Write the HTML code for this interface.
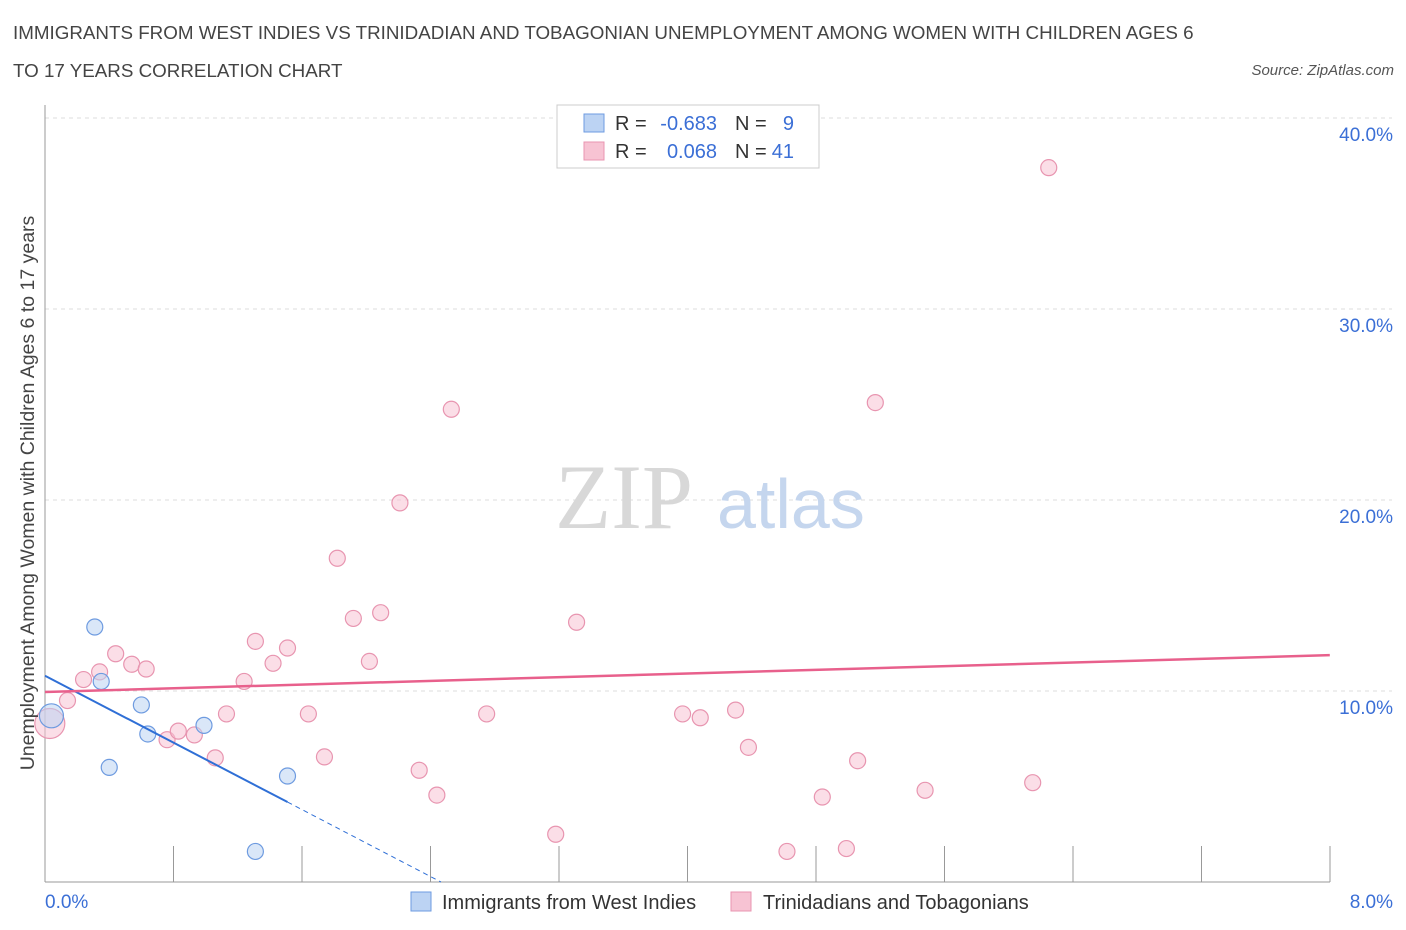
<!DOCTYPE html>
<html><head><meta charset="utf-8">
<style>
body{margin:0;background:#fff;font-family:"Liberation Sans",sans-serif;}
#wrap{position:relative;width:1406px;height:930px;overflow:hidden;}
.t{position:absolute;white-space:nowrap;}
</style></head>
<body>
<div id="wrap">
<div class="t" style="left:13px;top:14px;font-size:18.8px;color:#444;line-height:38px;">IMMIGRANTS FROM WEST INDIES VS TRINIDADIAN AND TOBAGONIAN UNEMPLOYMENT AMONG WOMEN WITH CHILDREN AGES 6<br>TO 17 YEARS CORRELATION CHART</div>
<div class="t" style="right:12px;top:62px;font-size:15px;color:#555;font-style:italic;">Source: ZipAtlas.com</div>
<svg id="svg" width="1406" height="930" style="position:absolute;left:0;top:0;"></svg>
</div>
<script>
const blueX=[0.04,0.35,0.31,0.60,0.64,0.40,0.99,1.51,1.31];
const blueY=[8.7,10.5,13.35,9.27,7.75,6.0,8.2,5.55,1.6];
const pinkX=[0.03,0.14,0.24,0.34,0.44,0.54,0.63,0.76,0.83,0.93,1.06,1.13,1.24,1.31,1.42,1.51,1.64,1.74,1.82,1.92,2.02,2.09,2.21,2.33,2.44,2.53,2.75,3.18,3.31,3.97,4.08,4.30,4.38,4.62,4.84,4.99,5.06,5.17,5.48,6.15,6.25];
const pinkY=[8.3,9.5,10.6,11.0,11.95,11.4,11.15,7.45,7.9,7.7,6.5,8.8,10.5,12.6,11.45,12.25,8.8,6.55,16.95,13.8,11.55,14.1,19.85,5.85,4.55,24.75,8.8,2.5,13.6,8.8,8.6,9.0,7.05,1.6,4.45,1.75,6.35,25.1,4.8,5.2,37.4];
const yTicks=[10,20,30,40];
const xTickLabels=["0.0%","8.0%"];
const blueLine=[10.8,-4.38]; // intercept, slope
const pinkLine=[9.95,0.241];
const X=v=>45+v*160.6, Y=v=>882-v*19.1;
const svg=document.getElementById('svg');
const NS='http://www.w3.org/2000/svg';
function mk(t,a){const e=document.createElementNS(NS,t);for(const k in a)e.setAttribute(k,a[k]);svg.appendChild(e);return e;}
for(const t of yTicks){
 const g=mk('line',{x1:45,x2:1392,y1:Y(t),y2:Y(t),stroke:'#ddd','stroke-dasharray':'4,4'});
 
 
 const l=mk('text',{x:1393,y:Y(t)+23,'text-anchor':'end','font-size':19,fill:'#3b6fd6','font-family':'Liberation Sans'});
 l.textContent=t.toFixed(1)+'%';
 
 
}
mk('line',{x1:45,x2:1392,y1:118,y2:118,stroke:'#ddd','stroke-dasharray':'4,4'});
mk('line',{x1:45,x2:45,y1:105,y2:882,stroke:'#999'});
mk('line',{x1:45,x2:1330,y1:882,y2:882,stroke:'#999'});
for(let i=0;i<=10;i++){const x=45+i*128.5;mk('line',{x1:x,x2:x,y1:846,y2:882,stroke:'#999'});}
const w=mk('text',{x:555,y:528,'font-size':92,fill:'#d8d8d8','font-family':'Liberation Serif'});w.textContent='ZIP';
const w2=mk('text',{x:717,y:528,'font-size':70,fill:'#c5d6ee','font-family':'Liberation Sans'});w2.textContent='atlas';
function pts(xs,ys,fill,stroke,name){xs.forEach((v,i)=>{const r=(i===0)?(name==='pink-point'?15:12):8;
 const c=mk('circle',{cx:X(v),cy:Y(ys[i]),r:r,fill:fill,stroke:stroke,'stroke-width':1.2,'fill-opacity':0.55});
 
 });}
pts(pinkX,pinkY,'#f7c3d3','#e895b0','pink-point');
pts(blueX,blueY,'#bcd3f3','#6e9be0','blue-point');
const bl=mk('line',{x1:X(0),y1:Y(blueLine[0]),x2:X(1.51),y2:Y(blueLine[0]+blueLine[1]*1.51),stroke:'#2f6fd6','stroke-width':2});


const xe=-blueLine[0]/blueLine[1];
mk('line',{x1:X(1.51),y1:Y(blueLine[0]+blueLine[1]*1.51),x2:X(xe),y2:Y(0),stroke:'#2f6fd6','stroke-width':1,'stroke-dasharray':'5,4'});
const pl=mk('line',{x1:X(0),y1:Y(pinkLine[0]),x2:X(8),y2:Y(pinkLine[0]+pinkLine[1]*8),stroke:'#e8608c','stroke-width':2.5});


const xl1=mk('text',{x:45,y:908,'font-size':19,fill:'#3b6fd6','font-family':'Liberation Sans'});xl1.textContent=xTickLabels[0];
const xl2=mk('text',{x:1393,y:908,'text-anchor':'end','font-size':19,fill:'#3b6fd6','font-family':'Liberation Sans'});xl2.textContent=xTickLabels[1];
const yt=mk('text',{x:0,y:0,'font-size':19.5,fill:'#444','font-family':'Liberation Sans','text-anchor':'middle',transform:'translate(34,493) rotate(-90)'});
yt.textContent='Unemployment Among Women with Children Ages 6 to 17 years';


mk('rect',{x:557,y:105,width:262,height:63,fill:'#fff',stroke:'#ccc'});
mk('rect',{x:584,y:114,width:20,height:18,fill:'#bcd3f3',stroke:'#6e9be0'});
mk('rect',{x:584,y:142,width:20,height:18,fill:'#f7c3d3',stroke:'#e895b0'});
function tx(x,y,s,c,a){const t=mk('text',{x:x,y:y,'font-size':20,fill:c,'font-family':'Liberation Sans','text-anchor':a||'start'});t.textContent=s;return t;}
tx(615,130,'R =','#333');tx(717,130,'-0.683','#3b6fd6','end');tx(735,130,'N =','#333');tx(794,130,'9','#3b6fd6','end');
tx(615,158,'R =','#333');tx(717,158,'0.068','#3b6fd6','end');tx(735,158,'N =','#333');tx(794,158,'41','#3b6fd6','end');
mk('rect',{x:411,y:892,width:20,height:19,fill:'#bcd3f3',stroke:'#6e9be0'});
tx(442,909,'Immigrants from West Indies','#333');
mk('rect',{x:731,y:892,width:20,height:19,fill:'#f7c3d3',stroke:'#e895b0'});
tx(763,909,'Trinidadians and Tobagonians','#333');
</script>
</body></html>
